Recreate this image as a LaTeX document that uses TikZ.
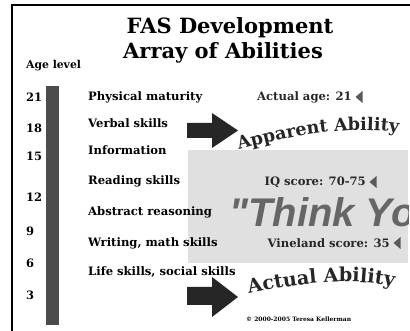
\documentclass[tikz,border=0pt]{standalone}
\usepackage{fontspec}
\setmainfont{DejaVu Serif}
\newfontfamily\thinkfont{Liberation Sans}
\usetikzlibrary{positioning,shapes.geometric,decorations.text}

\begin{document}
\begin{tikzpicture}[x=1pt,y=-1pt,
    title/.style={inner sep=0pt,font=\bfseries\fontsize{21}{24}\selectfont},
    skill/.style={anchor=west,inner sep=0pt,font=\bfseries\fontsize{11.6}{13}\selectfont},
    agenum/.style={anchor=west,inner sep=0pt,font=\bfseries\fontsize{11.5}{13}\selectfont},
    score/.style={anchor=east,inner sep=0pt,text=black!85,font=\bfseries\fontsize{11.6}{13}\selectfont},
    marker/.style={isosceles triangle,shape border rotate=180,isosceles triangle stretches,
                   fill=black!65,inner sep=0pt,minimum height=7pt,minimum width=12pt},
    bigarrow/.style={fill=black!85}]
  \useasboundingbox (0,0) rectangle (410,331);
  \fill[white] (0,0) rectangle (410,331);
  \draw[line width=2pt] (12,331) -- (12,5) -- (410,5);

  % shaded band and age bar
  \fill[black!12] (188,150) rectangle (408,263);
  \fill[black!70] (46,86) rectangle (59,325);

  \node[title] (title1) at (230,28) {FAS Development};
  \node[title] (title2) at (223,53) {Array of Abilities};
  \node[agenum,font=\bfseries\fontsize{10.8}{12}\selectfont] (agelevel) at (26,66) {Age level};

  \foreach \age/\y in {21/97,18/128,15/156,12/197,9/231,6/263,3/295}
    \node[agenum] (age\age) at (26,\y) {\age};

  \foreach \name/\y/\txt in {physical/97/Physical maturity, verbal/123/Verbal skills,
      information/150/Information, reading/181/Reading skills,
      abstract/212/Abstract reasoning, writing/243/{Writing, math skills},
      life/272/{Life skills,  social skills}}
    \node[skill] (\name) at (88,\y) {\txt};

  % scores with markers
  \node[score] (actualage) at (352,97) {Actual age: 21};
  \node[marker,right=3pt of actualage] (mark1) {};
  \node[score] (iq) at (366,182) {IQ score: 70-75};
  \node[marker,right=3pt of iq] (mark2) {};
  \node[score] (vineland) at (390,243) {Vineland score: 35};
  \node[marker,right=3pt of vineland] (mark3) {};

  \begin{scope}
    \clip (188,150) rectangle (408,263);
    \node[anchor=base west,inner sep=0pt,text=black!60,
          font=\thinkfont\bfseries\itshape\fontsize{40}{40}\selectfont] (think) at (229,227) {"Think Yo};
  \end{scope}

  % block arrows
  \fill[bigarrow] (187,123) -- (212,123) -- (212,113) -- (238,130.5) -- (212,148) -- (212,138) -- (187,138) -- cycle;
  \fill[bigarrow] (187,287) -- (212,287) -- (212,277) -- (238,297) -- (212,317) -- (212,305) -- (187,305) -- cycle;

  % arched labels
  \path[decorate,decoration={text along path,text color=black!85,
        text={|\bfseries\fontsize{17.6}{20}\selectfont|Apparent Ability}}]
    (239,150) .. controls (290,136) and (345,124) .. (406,134);
  \path[decorate,decoration={text along path,text color=black!85,
        text={|\bfseries\fontsize{19.2}{22}\selectfont|Actual Ability}}]
    (249,294) .. controls (300,283) and (350,276) .. (398,288);

  \node[anchor=west,inner sep=0pt,font=\bfseries\fontsize{6}{7}\selectfont] (copyright) at (246,319) {© 2000-2005 Teresa Kellerman};
\end{tikzpicture}
\end{document}
